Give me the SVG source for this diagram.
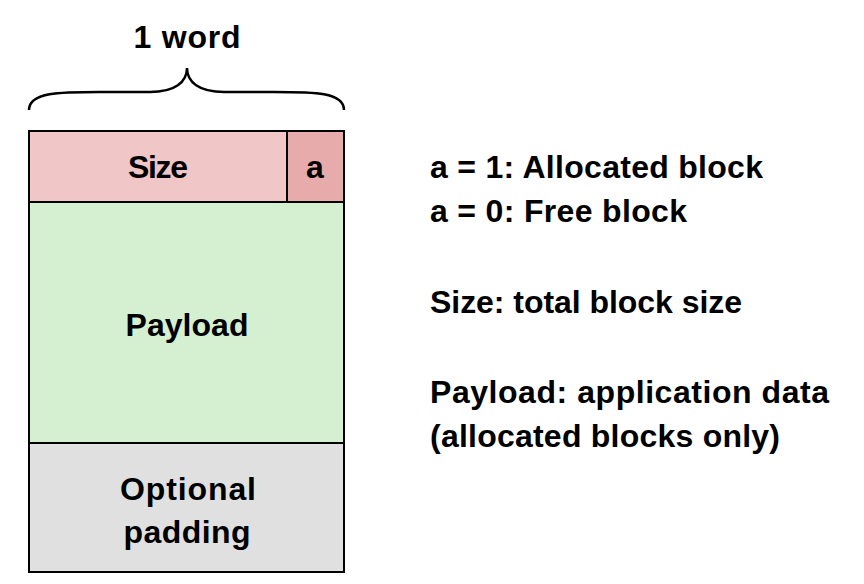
<svg xmlns="http://www.w3.org/2000/svg" width="864" height="584" viewBox="0 0 864 584">
<style>
text{font-family:"Liberation Sans",Arial,sans-serif;font-weight:bold;font-size:32px;fill:#000}
.c{text-anchor:middle}
.box{stroke:#000;stroke-width:2}
</style>
<rect width="864" height="584" fill="#fff"/>
<g id="brace">
<text class="c" x="187" y="48" textLength="107">1 word</text>
<path d="M29,110 C29,92 60,92 100,92 L150,92 C175,92 187,82 187,68 C187,82 199,92 224,92 L274,92 C314,92 344,92 344,110" fill="none" stroke="#000" stroke-width="2.5"/>
</g>
<g id="size">
<rect class="box" x="29" y="131" width="258" height="71" fill="#F0C6C6"/>
<text class="c" x="158" y="178" textLength="60">Size</text>
</g>
<g id="a">
<rect class="box" x="287" y="131" width="57" height="71" fill="#E8ABAB"/>
<text class="c" x="315" y="178">a</text>
</g>
<g id="payload">
<rect class="box" x="29" y="202" width="315" height="241" fill="#D5F0D0"/>
<text class="c" x="187" y="336" textLength="123">Payload</text>
</g>
<g id="padding">
<rect class="box" x="29" y="443" width="315" height="129" fill="#E0E0E0"/>
<text class="c" x="188" y="500" textLength="136">Optional</text>
<text class="c" x="187" y="543" textLength="127">padding</text>
</g>
<g id="legend">
<text x="430" y="178" textLength="333">a = 1: Allocated block</text>
<text x="430" y="222" textLength="257">a = 0: Free block</text>
<text x="430" y="313" textLength="312">Size: total block size</text>
<text x="430" y="403" textLength="399">Payload: application data</text>
<text x="430" y="447" textLength="350">(allocated blocks only)</text>
</g>
</svg>
